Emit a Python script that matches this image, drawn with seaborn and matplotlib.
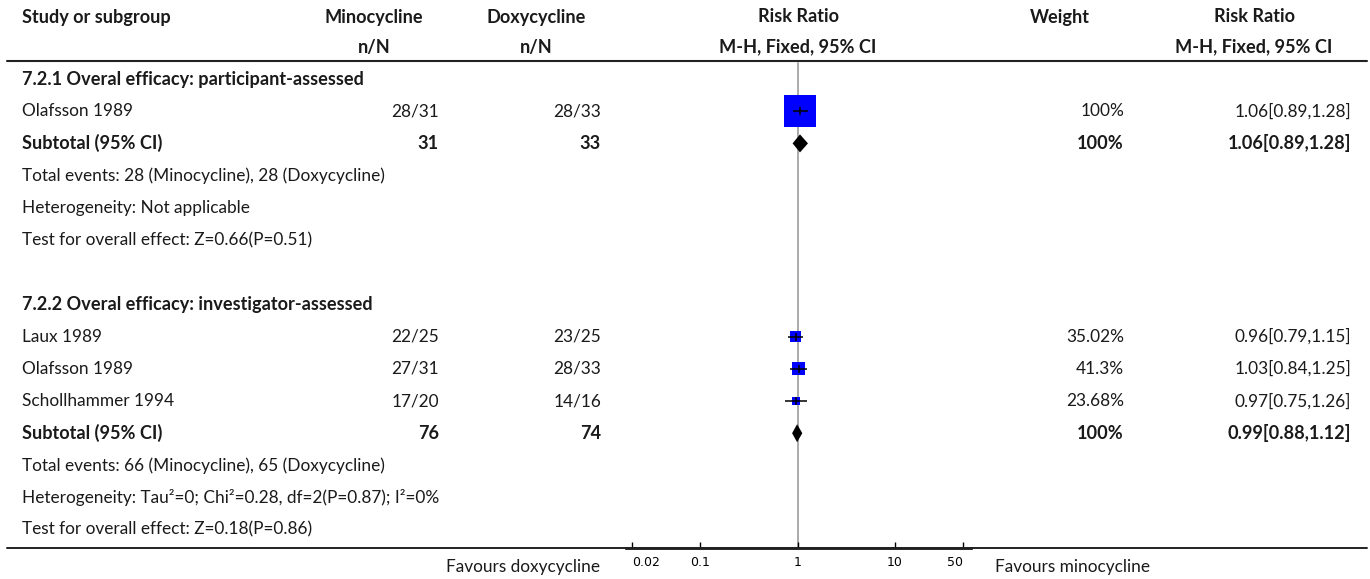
import numpy as np
import pandas as pd
import seaborn as sns
import matplotlib.pyplot as plt
import matplotlib.transforms as mtransforms
from matplotlib.lines import Line2D

sns.set_theme(style="white")
plt.rcParams['font.family'] = ['Lato', 'DejaVu Sans']

# table rows, top to bottom
row_labels = ["7.2.1 Overal efficacy: participant-assessed", "Olafsson 1989", "Subtotal (95% CI)",
              "Total events: 28 (Minocycline), 28 (Doxycycline)", "Heterogeneity: Not applicable",
              "Test for overall effect: Z=0.66(P=0.51)", "",
              "7.2.2 Overal efficacy: investigator-assessed", "Laux 1989", "Olafsson 1989",
              "Schollhammer 1994", "Subtotal (95% CI)",
              "Total events: 66 (Minocycline), 65 (Doxycycline)",
              "Heterogeneity: Tau²=0; Chi²=0.28, df=2(P=0.87); I²=0%",
              "Test for overall effect: Z=0.18(P=0.86)"]
row_kind = ["group", "study", "total", "note", "note", "note", "blank",
            "group", "study", "study", "study", "total", "note", "note", "note"]
mino_nN = ["", "28/31", "31", "", "", "", "", "", "22/25", "27/31", "17/20", "76", "", "", ""]
doxy_nN = ["", "28/33", "33", "", "", "", "", "", "23/25", "28/33", "14/16", "74", "", "", ""]
weight_txt = ["", "100%", "100%", "", "", "", "", "", "35.02%", "41.3%", "23.68%", "100%", "", "", ""]
rr_txt = ["", "1.06[0.89,1.28]", "1.06[0.89,1.28]", "", "", "", "", "",
          "0.96[0.79,1.15]", "1.03[0.84,1.25]", "0.97[0.75,1.26]", "0.99[0.88,1.12]", "", "", ""]
rr = [np.nan, 1.06, 1.06, np.nan, np.nan, np.nan, np.nan, np.nan, 0.96, 1.03, 0.97, 0.99,
      np.nan, np.nan, np.nan]
ci_lo = [np.nan, 0.89, 0.89, np.nan, np.nan, np.nan, np.nan, np.nan, 0.79, 0.84, 0.75, 0.88,
         np.nan, np.nan, np.nan]
ci_hi = [np.nan, 1.28, 1.28, np.nan, np.nan, np.nan, np.nan, np.nan, 1.15, 1.25, 1.26, 1.12,
         np.nan, np.nan, np.nan]
weight = [np.nan, 100, 100, np.nan, np.nan, np.nan, np.nan, np.nan, 35.02, 41.3, 23.68, 100,
          np.nan, np.nan, np.nan]

axis_ticks = [0.02, 0.1, 1, 10, 50]
axis_ticklabels = ["0.02", "0.1", "1", "10", "50"]

df = pd.DataFrame({"label": row_labels, "kind": row_kind, "rr": rr, "lo": ci_lo,
                   "hi": ci_hi, "weight": weight})
df["row"] = np.arange(len(df))
studies = df[df["kind"] == "study"].copy()
totals = df[df["kind"] == "total"]

W, H = 1370, 579
fig = plt.figure(figsize=(W / 100, H / 100), dpi=100)
fig.patch.set_facecolor("white")

row0_px, row_px = 79, 32.2
top_px, bot_px = 61, 548
ax = fig.add_axes([626 / W, (H - bot_px) / H, 345 / W, (bot_px - top_px) / H])
ax.set_xscale("log")
ax.set_xlim(0.0174, 60.2)
ax.set_ylim((bot_px - row0_px) / row_px, (top_px - row0_px) / row_px)
ax.set_facecolor("none")

def py(px):
    return (px - row0_px) / row_px

# line of no effect
ax.axvline(1, ymax=0.995, color="#aaaaaa", lw=1.4, zorder=0)

# study squares, sized by weight
side_px = 0.31 * studies["weight"] + 0.5
studies["s"] = (side_px * 0.72) ** 2
sns.scatterplot(data=studies, x="rr", y="row", marker="s", s=studies["s"].values,
                color="#0000ff", linewidth=0, ax=ax, zorder=2, legend=False)
ax.hlines(studies["row"], studies["lo"], studies["hi"], color="black", lw=1.1, zorder=3)
ax.scatter(studies["rr"], studies["row"], marker="|", s=(8 * 0.72) ** 2, color="black",
           linewidths=1.1, zorder=3)

# subtotal diamonds
dh = 9 / row_px
for _, r in totals.iterrows():
    ax.fill([r["lo"], r["rr"], r["hi"], r["rr"]],
            [r["row"], r["row"] - dh, r["row"], r["row"] + dh],
            color="black", lw=0, zorder=3)

ax.set_xlabel("")
ax.set_ylabel("")
ax.set_xticks(axis_ticks)
ax.set_xticklabels(axis_ticklabels, fontfamily="DejaVu Sans", fontsize=9)
ax.xaxis.set_minor_locator(plt.NullLocator())
ax.tick_params(axis="x", direction="in", length=4, width=1, pad=6, colors="black", bottom=True)
ax.tick_params(axis="y", left=False, labelleft=False)
lbls = ax.get_xticklabels()
lbls[0].set_ha("left")
lbls[-1].set_ha("right")
for side in ["top", "left", "right"]:
    ax.spines[side].set_visible(False)
ax.spines["bottom"].set_linewidth(1.9)
ax.spines["bottom"].set_color("black")
ax.spines["bottom"].set_zorder(4)

# full-width rules
for ypx, lw in [(top_px, 1.5), (bot_px, 1.4)]:
    fig.add_artist(Line2D([7 / W, 1367 / W], [(H - ypx) / H] * 2, color="#222222", lw=lw))

tr = mtransforms.blended_transform_factory(fig.transFigure, ax.transData)
fs, fs_bold = 12.4, 13.1
tc = "#1a1a1a"

def put(xpx, y, s, ha="left", bold=False, **kw):
    ax.text(xpx / W, y, s, transform=tr, ha=ha, va="center",
            fontsize=fs_bold if bold else fs, color=tc,
            fontweight="bold" if bold else "normal", clip_on=False, **kw)

# header
put(22, py(17), "Study or subgroup", bold=True)
put(374, py(17), "Minocycline", ha="center", bold=True)
put(374, py(47), "n/N", ha="center", bold=True)
put(536, py(17), "Doxycycline", ha="center", bold=True)
put(536, py(47), "n/N", ha="center", bold=True)
put(798, py(17), "Risk Ratio", ha="center", bold=True)
put(798, py(47), "M-H, Fixed, 95% CI", ha="center", bold=True)
put(1060, py(17), "Weight", ha="center", bold=True)
put(1254, py(17), "Risk Ratio", ha="center", bold=True)
put(1254, py(47), "M-H, Fixed, 95% CI", ha="center", bold=True)

# body
for i, r in df.iterrows():
    bold = r["kind"] in ("group", "total")
    put(22, i, r["label"], bold=bold)
    put(439, i, mino_nN[i], ha="right", bold=bold)
    put(601, i, doxy_nN[i], ha="right", bold=bold)
    put(1124, i, weight_txt[i], ha="right", bold=bold)
    put(1351, i, rr_txt[i], ha="right", bold=bold)

put(600, py(567), "Favours doxycycline", ha="right")
put(995, py(567), "Favours minocycline", ha="left")

fig.savefig("out.png", dpi=100)
